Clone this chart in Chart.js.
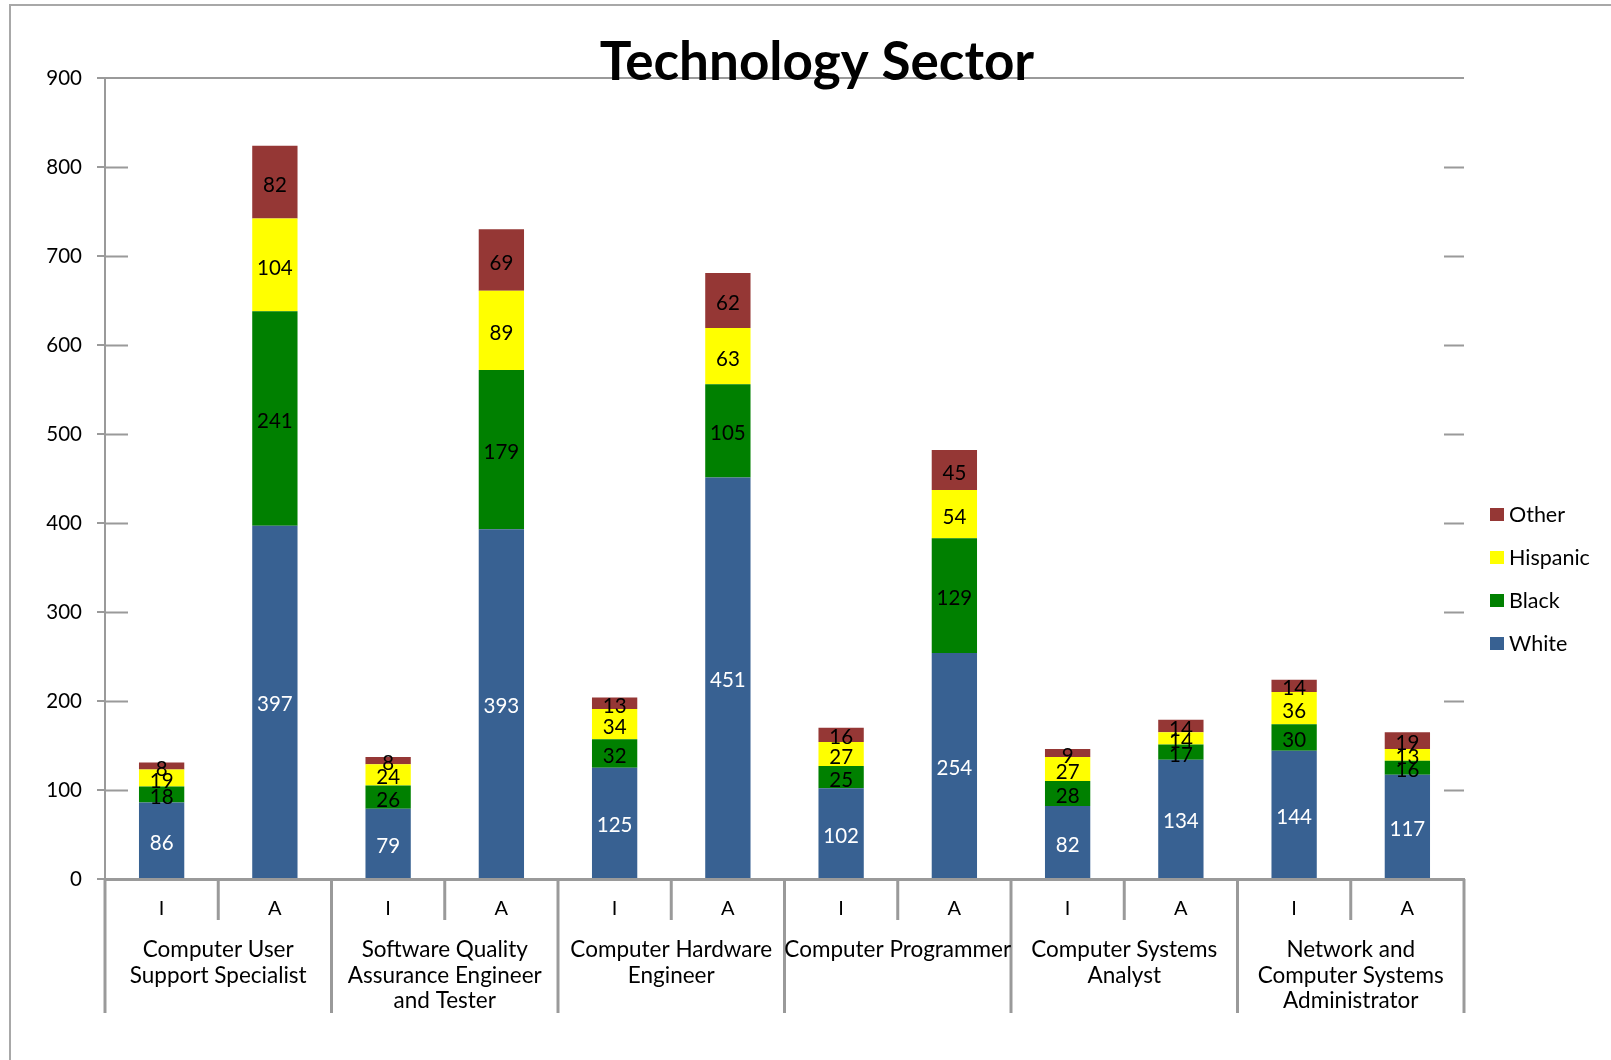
<!DOCTYPE html>
<html>
<head>
<meta charset="utf-8">
<title>Technology Sector</title>
<script src="https://cdn.jsdelivr.net/npm/chart.js@4.4.1/dist/chart.umd.min.js"></script>
<style>
html, body { margin: 0; padding: 0; background: #fff; }
#wrap { width: 1611px; height: 1060px; position: relative; }
</style>
</head>
<body>
<div id="wrap"><canvas id="chart"></canvas></div>
<script>
// occupations, each has an I and an A bar
const groups = [
    ['Computer User', 'Support Specialist'],
    ['Software Quality', 'Assurance Engineer', 'and Tester'],
    ['Computer Hardware', 'Engineer'],
    ['Computer Programmer'],
    ['Computer Systems', 'Analyst'],
    ['Network and', 'Computer Systems', 'Administrator']
];
const labels = ['I', 'A', 'I', 'A', 'I', 'A', 'I', 'A', 'I', 'A', 'I', 'A'];

const white    = [86, 397, 79, 393, 125, 451, 102, 254, 82, 134, 144, 117];
const black    = [18, 241, 26, 179, 32, 105, 25, 129, 28, 17, 30, 16];
const hispanic = [19, 104, 24, 89, 34, 63, 27, 54, 27, 14, 36, 13];
const other    = [8, 82, 8, 69, 13, 62, 16, 45, 9, 14, 14, 19];

const yTicks = [0, 100, 200, 300, 400, 500, 600, 700, 800, 900];

const FONT = 'Lato';
const GRAY = '#9a9a9a';

// titles, legend, value labels and the two-row category axis
const overlay = {
    id: 'overlay',
    afterDatasetsDraw(chart) {
        const ctx = chart.ctx;
        ctx.save();
        ctx.font = '20.5px ' + FONT;
        ctx.textAlign = 'center';
        ctx.textBaseline = 'middle';
        chart.data.datasets.forEach((ds, i) => {
            const meta = chart.getDatasetMeta(i);
            ctx.fillStyle = i === 0 ? '#ffffff' : '#000000';
            meta.data.forEach((bar, j) => {
                ctx.fillText(String(ds.data[j]), bar.x, (bar.y + bar.base) / 2 + 3);
            });
        });
        ctx.restore();
    },
    afterDraw(chart) {
        const ctx = chart.ctx;
        const area = chart.chartArea;
        const xs = chart.scales.x;
        const ys = chart.scales.y;
        ctx.save();

        // outer frame
        ctx.strokeStyle = '#a8a8a8';
        ctx.lineWidth = 2;
        ctx.beginPath();
        ctx.moveTo(10, 1060);
        ctx.lineTo(10, 5);
        ctx.lineTo(1611, 5);
        ctx.stroke();

        // inner tick marks on both sides
        ctx.strokeStyle = GRAY;
        ctx.lineWidth = 2;
        yTicks.forEach(v => {
            if (v === 0 || v === 900) return;
            const y = Math.round(ys.getPixelForValue(v)) + 0.5;
            ctx.beginPath();
            ctx.moveTo(area.left, y);
            ctx.lineTo(area.left + 23, y);
            ctx.moveTo(area.right - 20, y);
            ctx.lineTo(area.right, y);
            ctx.stroke();
        });

        // category separators
        const half = (xs.getPixelForValue(1) - xs.getPixelForValue(0)) / 2;
        ctx.lineWidth = 3;
        for (let i = 0; i <= labels.length; i++) {
            const x = xs.getPixelForValue(0) - half + i * half * 2;
            ctx.beginPath();
            ctx.moveTo(x, area.bottom);
            ctx.lineTo(x, i % 2 === 0 ? area.bottom + 134 : area.bottom + 41);
            ctx.stroke();
        }

        // occupation names
        ctx.fillStyle = '#000';
        ctx.font = '22.5px ' + FONT;
        ctx.textAlign = 'center';
        ctx.textBaseline = 'middle';
        groups.forEach((lines, g) => {
            const cx = (xs.getPixelForValue(g * 2) + xs.getPixelForValue(g * 2 + 1)) / 2;
            lines.forEach((t, k) => ctx.fillText(t, cx, area.bottom + 71 + k * 25.5));
        });

        // title
        ctx.font = 'bold 53px ' + FONT;
        ctx.textBaseline = 'alphabetic';
        ctx.fillText('Technology Sector', 817, 80);

        // legend, top to bottom in reverse stacking order
        ctx.font = '21.5px ' + FONT;
        ctx.textAlign = 'left';
        ctx.textBaseline = 'middle';
        const sets = chart.data.datasets.slice().reverse();
        sets.forEach((ds, k) => {
            const y = 515 + k * 43;
            ctx.fillStyle = ds.backgroundColor;
            ctx.fillRect(1490, y - 7, 14, 13);
            ctx.fillStyle = '#000';
            ctx.fillText(ds.label, 1509, y);
        });

        ctx.restore();
    }
};

const chart = new Chart(document.getElementById('chart'), {
    type: 'bar',
    data: {
        labels: labels,
        datasets: [
            { label: 'White', data: white, backgroundColor: '#386192' },
            { label: 'Black', data: black, backgroundColor: '#008000' },
            { label: 'Hispanic', data: hispanic, backgroundColor: '#ffff00' },
            { label: 'Other', data: other, backgroundColor: '#953735' }
        ]
    },
    options: {
        responsive: true,
        maintainAspectRatio: false,
        animation: false,
        barPercentage: 0.4,
        categoryPercentage: 1.0,
        layout: { padding: { top: 78, right: 147, left: 0, bottom: 0 } },
        plugins: {
            legend: { display: false },
            tooltip: { enabled: false }
        },
        scales: {
            x: {
                stacked: true,
                afterFit(scale) { scale.height = 181; },
                grid: { drawOnChartArea: false, drawTicks: false },
                border: { color: GRAY, width: 3 },
                ticks: { color: '#000', padding: 18, font: { family: FONT, size: 20 } }
            },
            y: {
                stacked: true,
                min: 0,
                max: 900,
                afterFit(scale) { scale.width = 105; },
                afterBuildTicks(scale) { scale.ticks = yTicks.map(v => ({ value: v })); },
                grid: {
                    color: c => (c.tick && c.tick.value === 900 ? GRAY : 'rgba(0,0,0,0)'),
                    lineWidth: 2,
                    tickColor: GRAY,
                    tickLength: 8
                },
                border: { color: GRAY, width: 2 },
                ticks: { color: '#000', padding: 15, font: { family: FONT, size: 20.5 } }
            }
        }
    },
    plugins: [overlay]
});
</script>
</body>
</html>
